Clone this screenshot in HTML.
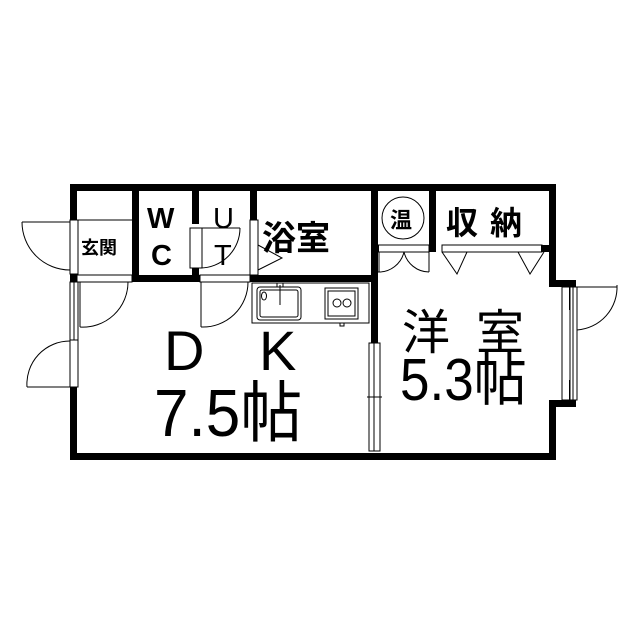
<!DOCTYPE html>
<html><head><meta charset="utf-8"><style>
html,body{margin:0;padding:0;background:#fff}
svg{display:block}
text{font-family:"Liberation Sans","Noto Sans CJK JP",sans-serif;fill:#000}
</style></head><body>
<svg width="640" height="640" viewBox="0 0 640 640" xmlns="http://www.w3.org/2000/svg">
<g fill="#000">
<rect x="70" y="184" width="486" height="7"/>
<rect x="70" y="184" width="7" height="36"/>
<rect x="70" y="274" width="7" height="8"/>
<rect x="70" y="387" width="7" height="73"/>
<rect x="70" y="453" width="486" height="7"/>
<rect x="549" y="184" width="7" height="103"/>
<rect x="549" y="280" width="27" height="7"/>
<rect x="569" y="280" width="7" height="30"/>
<rect x="569" y="380" width="7" height="27"/>
<rect x="549" y="400" width="27" height="7"/>
<rect x="549" y="400" width="7" height="60"/>
<rect x="132" y="184" width="7" height="98"/>
<rect x="192" y="184" width="7" height="40"/>
<rect x="192" y="268" width="7" height="14"/>
<rect x="250" y="184" width="7" height="36"/>
<rect x="132" y="275" width="68" height="7"/>
<rect x="250" y="275" width="128" height="7"/>
<rect x="371" y="184" width="7" height="160"/>
<rect x="429" y="184" width="7" height="68"/>
<rect x="371" y="245" width="8" height="7"/>
<rect x="541" y="245" width="10" height="7"/>
</g>
<g fill="none" stroke="#000" stroke-width="1">
<rect x="70" y="220" width="8" height="54" fill="#fff"/>
<line x1="77" y1="220" x2="132" y2="220"/>
<line x1="22" y1="222" x2="70" y2="222"/>
<path d="M22 222 A48 48 0 0 0 70 270"/>
<rect x="77" y="275" width="55" height="7"/>
<line x1="80" y1="282" x2="80" y2="327"/>
<path d="M80 327 A45 45 0 0 0 128 282"/>
<rect x="70" y="282" width="8" height="58"/>
<line x1="74" y1="282" x2="74" y2="340"/>
<rect x="70" y="340" width="8" height="47"/>
<line x1="27" y1="387" x2="70" y2="387"/>
<path d="M27 387 A43 43 0 0 1 70 341"/>
<rect x="190" y="228" width="12" height="40"/>
<line x1="199" y1="228" x2="240" y2="228"/>
<path d="M200 268 A40 40 0 0 0 240 228"/>
<rect x="200" y="275" width="50" height="7"/>
<line x1="201" y1="282" x2="201" y2="327"/>
<path d="M201 327 A45 45 0 0 0 248 282"/>
<rect x="250" y="220" width="8" height="55"/>
<path d="M258 245 L282 258 L258 270"/>
<rect x="252" y="283" width="117" height="40"/>
<rect x="257" y="287" width="44" height="33" rx="3"/>
<rect x="260" y="290" width="38" height="27" rx="2"/>
<ellipse cx="264" cy="296" rx="2.5" ry="4"/>
<line x1="280" y1="285" x2="280" y2="305"/>
<rect x="277" y="283" width="6" height="4"/>
<rect x="325" y="288" width="33" height="31"/>
<rect x="328" y="291" width="27" height="25"/>
<circle cx="337" cy="303" r="4"/><circle cx="347" cy="303" r="4"/>
<rect x="340" y="323" width="4" height="3"/>
<rect x="369" y="343" width="11" height="108" fill="#fff"/>
<line x1="374" y1="343" x2="374" y2="451"/>
<line x1="367" y1="397" x2="382" y2="397"/>
<circle cx="403" cy="218" r="21"/>
<rect x="378" y="245" width="51" height="7"/>
<path d="M378 272 A26 26 0 0 0 404 252 M429 272 A26 26 0 0 1 404 252"/>
<line x1="379" y1="252" x2="379" y2="272"/><line x1="429" y1="252" x2="429" y2="272"/>
<rect x="442" y="245" width="100" height="7"/>
<path d="M442 252 L457 274 L467 252 M544 252 L530 274 L518 252"/>
<rect x="562" y="287" width="8" height="113"/>
<rect x="570" y="287" width="7" height="113" fill="#fff"/>
<line x1="573" y1="287" x2="573" y2="400"/>
<line x1="577" y1="330" x2="577" y2="287"/>
<path d="M577 330 A43 43 0 0 0 617 285 M577 287 L617 287"/>
</g>
<g font-size="29" font-weight="bold">
<text x="147" y="228">W</text>
<text x="151" y="265">C</text>
<text x="213" y="228" font-weight="normal">U</text>
<text x="214" y="265" font-weight="normal">T</text>
</g>
<text x="81" y="254" font-size="18" font-weight="bold">玄関</text>
<text x="262" y="250" font-size="34" font-weight="bold">浴室</text>
<text x="390" y="228" font-size="22" font-weight="bold">温</text>
<text x="446" y="234" font-size="32" font-weight="bold" letter-spacing="12">収納</text>
<text x="164" y="370" font-size="56">D</text>
<text x="259" y="370" font-size="56">K</text>
<text transform="translate(154,436) scale(1.07,1.15)" font-size="58">7.5帖</text>
<text x="402" y="349" font-size="48" letter-spacing="26">洋室</text>
<text transform="translate(400,400) scale(1.02,1.15)" font-size="52">5.3帖</text>
</svg>
</body></html>
